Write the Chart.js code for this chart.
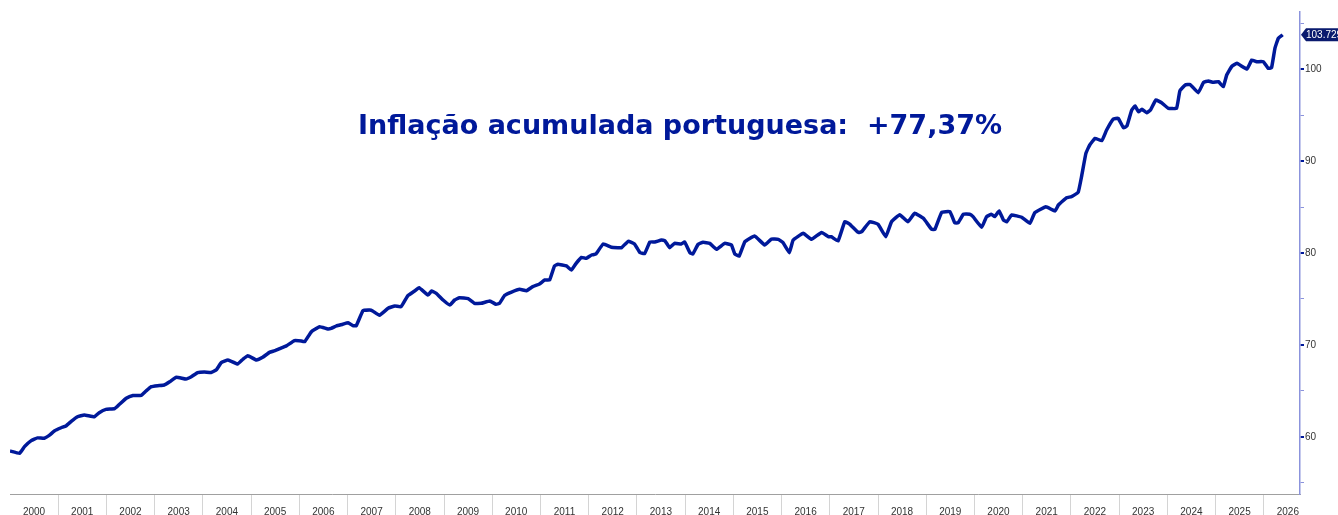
<!DOCTYPE html>
<html>
<head>
<meta charset="utf-8">
<script src="https://cdn.jsdelivr.net/npm/chart.js@4/dist/chart.umd.min.js"></script>
<style>
  html, body { margin: 0; padding: 0; background: #ffffff; }
  #wrap { width: 1338px; height: 515px; position: relative; }
</style>
</head>
<body>
<div id="wrap"><canvas id="c" width="1338" height="515"></canvas></div>
<script>
// Decimal-year positions of the traced points
const dates = [
  2000.00, 2000.20, 2000.30, 2000.44, 2000.57, 2000.71, 2000.82, 2000.92, 2001.06, 2001.16,
  2001.27, 2001.40, 2001.54, 2001.75, 2001.85, 2001.99, 2002.17, 2002.27, 2002.41, 2002.55,
  2002.72, 2002.82, 2002.93, 2003.06, 2003.20, 2003.31, 2003.45, 2003.65, 2003.76, 2003.89,
  2004.03, 2004.17, 2004.28, 2004.38, 2004.52, 2004.72, 2004.83, 2004.93, 2005.11, 2005.24,
  2005.38, 2005.49, 2005.62, 2005.73, 2005.90, 2006.04, 2006.11, 2006.25, 2006.42, 2006.59,
  2006.66, 2006.77, 2006.90, 2007.01, 2007.11, 2007.18, 2007.32, 2007.46, 2007.52, 2007.66,
  2007.84, 2007.98, 2008.11, 2008.25, 2008.39, 2008.48, 2008.67, 2008.74, 2008.84, 2008.98,
  2009.12, 2009.22, 2009.32, 2009.50, 2009.63, 2009.77, 2009.95, 2010.08, 2010.15, 2010.26,
  2010.40, 2010.57, 2010.71, 2010.84, 2010.98, 2011.09, 2011.19, 2011.29, 2011.36, 2011.54,
  2011.64, 2011.74, 2011.85, 2011.95, 2012.06, 2012.15, 2012.30, 2012.47, 2012.61, 2012.68,
  2012.82, 2012.95, 2013.06, 2013.16, 2013.27,
  2013.37, 2013.51, 2013.58, 2013.68, 2013.78, 2013.92, 2013.99, 2014.10, 2014.16, 2014.27,
  2014.37, 2014.51, 2014.65, 2014.82, 2014.96, 2015.03, 2015.12, 2015.24, 2015.44, 2015.65,
  2015.79, 2015.93, 2016.03, 2016.16, 2016.24, 2016.45, 2016.62, 2016.83, 2016.97, 2017.03,
  2017.17, 2017.31, 2017.41, 2017.59, 2017.66, 2017.83, 2018.00, 2018.16, 2018.28, 2018.45,
  2018.62, 2018.76, 2018.94, 2019.11, 2019.18, 2019.32, 2019.49, 2019.59, 2019.66, 2019.77,
  2019.90,
  2019.97, 2020.15, 2020.25, 2020.35, 2020.42, 2020.51, 2020.60, 2020.67, 2020.77, 2020.98,
  2021.15, 2021.25, 2021.48, 2021.67, 2021.74, 2021.91, 2022.01, 2022.15, 2022.22, 2022.31,
  2022.39, 2022.50, 2022.64, 2022.74, 2022.88, 2022.98, 2023.09, 2023.16, 2023.26, 2023.33,
  2023.40, 2023.47, 2023.57, 2023.65, 2023.76, 2023.88, 2024.02, 2024.19, 2024.26, 2024.37,
  2024.47, 2024.64, 2024.75, 2024.85, 2024.95, 2025.06, 2025.16, 2025.23, 2025.33, 2025.44,
  2025.65, 2025.75, 2025.85, 2025.99, 2026.09, 2026.16, 2026.23, 2026.30, 2026.39
];

// Price index values
const values = [
  58.48, 58.23, 58.95, 59.60, 59.90, 59.86, 60.20, 60.65, 61.00, 61.20,
  61.70, 62.20, 62.40, 62.20, 62.64, 63.00, 63.08, 63.55, 64.20, 64.50,
  64.53, 65.00, 65.47, 65.58, 65.65, 66.00, 66.50, 66.30, 66.55, 67.00,
  67.07, 67.00, 67.30, 68.08, 68.37, 67.93, 68.45, 68.84, 68.37, 68.66,
  69.20, 69.38, 69.67, 69.90, 70.47, 70.43, 70.36, 71.45, 71.99, 71.74,
  71.80, 72.07, 72.25, 72.43, 72.10, 72.10, 73.73, 73.80, 73.70, 73.23,
  73.99, 74.24, 74.16, 75.36, 75.87, 76.23, 75.43, 75.87, 75.62, 74.89,
  74.35, 74.89, 75.14, 75.03, 74.53, 74.53, 74.78, 74.42, 74.53, 75.40,
  75.76, 76.05, 75.90, 76.34, 76.63, 77.07, 77.07, 78.59, 78.77, 78.59,
  78.15, 78.88, 79.53, 79.42, 79.78, 79.89, 80.98, 80.62, 80.58, 80.58,
  81.27, 80.98, 80.05, 79.95, 81.20,
  81.20, 81.41, 81.34, 80.58, 81.05, 80.98, 81.20, 80.03, 79.90, 80.95,
  81.16, 81.05, 80.40, 81.05, 80.87, 79.89, 79.67, 81.23, 81.85, 80.87,
  81.52, 81.49, 81.12, 80.03, 81.41, 82.14, 81.49, 82.24, 81.77, 81.77,
  81.30, 83.40, 83.15, 82.24, 82.32, 83.40, 83.12, 81.77, 83.40, 84.16,
  83.40, 84.32, 83.77, 82.58, 82.58, 84.42, 84.49, 83.29, 83.29, 84.21,
  84.21,
  83.95, 82.79, 83.95, 84.21, 83.95, 84.57, 83.59, 83.40, 84.13, 83.88,
  83.22, 84.38, 85.03, 84.57, 85.22, 86.01, 86.12, 86.60, 88.30, 90.83,
  91.74, 92.46, 92.21, 93.37, 94.57, 94.64, 93.62, 93.80, 95.54, 95.98,
  95.36, 95.62, 95.25, 95.54, 96.63, 96.34, 95.73, 95.73, 97.64, 98.26,
  98.33, 97.42, 98.55, 98.70, 98.55, 98.62, 98.08, 99.35, 100.25, 100.62,
  100.00, 100.98, 100.80, 100.80, 100.08, 100.14, 102.25, 103.34, 103.729
];

const yearTicks = [2000, 2001, 2002, 2003, 2004, 2005, 2006, 2007, 2008, 2009, 2010, 2011, 2012,
  2013, 2014, 2015, 2016, 2017, 2018, 2019, 2020, 2021, 2022, 2023, 2024, 2025, 2026];
const yTicks = [55, 60, 65, 70, 75, 80, 85, 90, 95, 100, 105];
const titleText = 'Inflação acumulada portuguesa:  +77,37%';
const lastLabel = '103.729';

const NAVY = '#00199a';
const AXIS_BLUE = '#8b93dc';

const overlay = {
  id: 'overlay',
  afterDraw(chart) {
    const ctx = chart.ctx;
    // Title text
    ctx.save();
    ctx.font = 'bold 27px "DejaVu Sans", Verdana, sans-serif';
    ctx.fillStyle = NAVY;
    ctx.textAlign = 'center';
    ctx.textBaseline = 'alphabetic';
    ctx.fillText(titleText, 680, 134);
    ctx.restore();

    // Last value tag on the right axis
    const ys = chart.scales.y;
    const yPix = ys.getPixelForValue(values[values.length - 1]);
    const x0 = chart.chartArea.right + 1;
    const h = 13;
    ctx.save();
    ctx.fillStyle = '#0a1a6e';
    ctx.beginPath();
    ctx.moveTo(x0, yPix);
    ctx.lineTo(x0 + 5, yPix - h / 2);
    ctx.lineTo(chart.width + 2, yPix - h / 2);
    ctx.lineTo(chart.width + 2, yPix + h / 2);
    ctx.lineTo(x0 + 5, yPix + h / 2);
    ctx.closePath();
    ctx.fill();
    ctx.fillStyle = '#ffffff';
    ctx.font = '10px "Liberation Sans", Arial, sans-serif';
    ctx.textAlign = 'left';
    ctx.textBaseline = 'middle';
    ctx.fillText(lastLabel, x0 + 5, yPix + 0.5);
    ctx.restore();
  }
};

new Chart(document.getElementById('c'), {
  type: 'line',
  data: {
    datasets: [{
      data: dates.map((d, i) => ({ x: d, y: values[i] })),
      borderColor: NAVY,
      borderWidth: 3.5,
      pointRadius: 0,
      tension: 0.1,
      fill: false
    }]
  },
  options: {
    responsive: false,
    animation: false,
    events: [],
    layout: { padding: { left: 10, top: 12, right: 0, bottom: 0 } },
    plugins: { legend: { display: false }, tooltip: { enabled: false }, title: { display: false } },
    scales: {
      x: {
        type: 'linear',
        position: 'bottom',
        min: 2000,
        max: 2026.75,
        afterBuildTicks: (s) => { s.ticks = yearTicks.map(v => ({ value: v })); },
        afterFit: (s) => { s.height = 21; },
        border: { display: true, color: '#a0a0a0', width: 1 },
        grid: {
          drawOnChartArea: false,
          drawTicks: true,
          tickLength: 21,
          color: (c) => (c.tick && c.tick.value === 2000) ? 'rgba(0,0,0,0)' : '#d4d4d4',
          lineWidth: 1
        },
        ticks: {
          autoSkip: false,
          maxRotation: 0,
          labelOffset: 24,
          padding: -9,
          color: '#333333',
          font: { family: '"Liberation Sans", Arial, sans-serif', size: 10 },
          callback: (v) => String(v)
        }
      },
      y: {
        type: 'linear',
        position: 'right',
        min: 53.8,
        max: 106.2,
        afterBuildTicks: (s) => { s.ticks = yTicks.map(v => ({ value: v })); },
        afterFit: (s) => { s.width = 38; },
        border: { display: true, color: AXIS_BLUE, width: 1.5 },
        grid: {
          drawOnChartArea: false,
          drawTicks: true,
          tickLength: 4,
          color: (c) => (c.tick && c.tick.value % 10 === 0) ? NAVY : AXIS_BLUE,
          lineWidth: (c) => (c.tick && c.tick.value % 10 === 0) ? 2 : 1
        },
        ticks: {
          padding: 1,
          color: '#333333',
          font: { family: '"Liberation Sans", Arial, sans-serif', size: 10 },
          callback: (v) => (v % 10 === 0 ? String(v) : '')
        }
      }
    }
  },
  plugins: [overlay]
});
</script>
</body>
</html>
